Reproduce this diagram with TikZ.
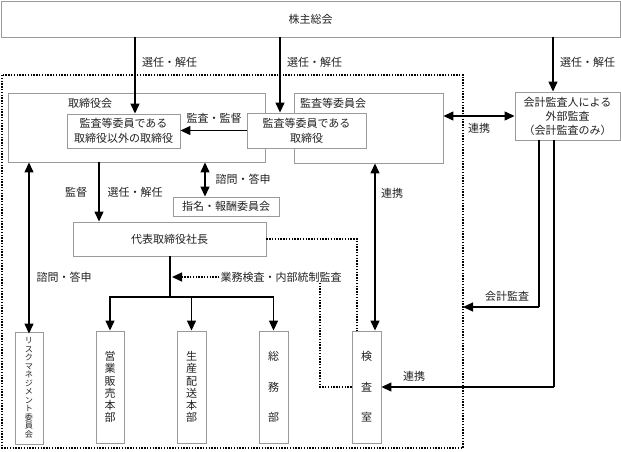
\documentclass[tikz,border=0pt]{standalone}
\usepackage{fontspec}
\setmainfont{Noto Sans CJK JP}
\usetikzlibrary{arrows.meta}
\definecolor{bordc}{HTML}{9A9A9A}
\definecolor{txtc}{HTML}{222222}
\begin{document}
\begin{tikzpicture}[x=1pt,y=-1pt,
  box/.style={draw=bordc,line width=0.9pt,fill=white,inner sep=0pt,text=txtc,align=center,font=\fontsize{11}{15}\selectfont},
  vbox/.style={box,font=\fontsize{11}{12.3}\selectfont},
  lbl/.style={inner sep=1pt,text=txtc,font=\fontsize{11}{13}\selectfont},
  ln/.style={line width=1.3pt,black},
  arr/.style={ln,-{Triangle[length=10pt,width=9pt]}},
  darr/.style={ln,{Triangle[length=10pt,width=9pt]}-{Triangle[length=10pt,width=9pt]}},
  dot/.style={line width=1.3pt,black,dash pattern=on 1.4pt off 1.4pt},
]
\useasboundingbox (0,0) rectangle (621,451);

% outer dotted frame
\draw[dot] (2,75) rectangle (463,448);

% nodes
\node[box,minimum width=619pt,minimum height=36pt] (sh) at (310.5,19) {株主総会};
\node[box,minimum width=257pt,minimum height=69pt] (tori) at (136.5,127.5) {};
\node[lbl,anchor=west] (toriL) at (67,103) {取締役会};
\node[box,minimum width=113pt,minimum height=34pt] (in1) at (123.5,131) {監査等委員である\\取締役以外の取締役};
\node[box,minimum width=149pt,minimum height=70pt] (kan) at (368.5,128) {};
\node[lbl,anchor=west] (kanL) at (299,103) {監査等委員会};
\node[box,minimum width=119pt,minimum height=35pt] (in2) at (306.5,130.5) {監査等委員である\\取締役};
\node[box,minimum width=106pt,minimum height=19pt] (shimei) at (226,206.5) {指名・報酬委員会};
\node[box,minimum width=193pt,minimum height=34pt] (dai) at (169.5,239) {代表取締役社長};
\node[box,minimum width=105pt,minimum height=48pt,font=\fontsize{11}{14}\selectfont] (kai) at (567.5,116) {会計監査人による\\外部監査\\（会計監査のみ）};
\node[box,minimum width=28pt,minimum height=112pt,font=\fontsize{8.1}{8.5}\selectfont] (risk) at (29,388) {リ\\ス\\ク\\マ\\ネ\\ジ\\メ\\ン\\ト\\委\\員\\会};
\node[vbox,minimum width=28pt,minimum height=112pt] (eig) at (110,387) {営\\業\\販\\売\\本\\部};
\node[vbox,minimum width=29pt,minimum height=112pt] (sei) at (191.5,387) {生\\産\\配\\送\\本\\部};
\node[box,minimum width=29pt,minimum height=112pt,font=\fontsize{11}{30.5}\selectfont] (som) at (273.5,387) {総\\務\\部};
\node[box,minimum width=29pt,minimum height=112pt,font=\fontsize{11}{30.5}\selectfont] (ken) at (366.5,387) {検\\査\\室};

% helper coordinates
\coordinate (p1) at (135,0);
\coordinate (p2) at (280,0);
\coordinate (p3) at (553,0);
\coordinate (p4) at (99,0);
\coordinate (p5) at (205,0);
\coordinate (p6) at (29,0);
\coordinate (t) at (170,297);
\coordinate (p7) at (375,0);
\coordinate (p8) at (357,239);
\coordinate (p9) at (320,387);
\coordinate (pa) at (539,307);
\coordinate (pb) at (554,387);
\coordinate (y1) at (0,116);

% top arrows
\draw[arr] (sh.south -| p1) -- (in1.north -| p1);
\node[lbl,anchor=west] (l1) at (141,62) {選任・解任};
\draw[arr] (sh.south -| p2) -- (in2.north -| p2);
\node[lbl,anchor=west] (l2) at (286,62) {選任・解任};
\draw[arr] (sh.south -| p3) -- (kai.north -| p3);
\node[lbl,anchor=west] (l3) at (559,62) {選任・解任};

% audit/supervise
\draw[arr] (in2.west) -- (in2.west -| in1.east);
\node[lbl] (l4) at (214,118) {監査・監督};

% kansa <-> kaikei
\draw[darr] (kan.east |- y1) -- (kai.west |- y1);
\node[lbl] (l5) at (479,128) {連携};

% torikai -> daihyo
\draw[arr] (tori.south -| p4) -- (dai.north -| p4);
\node[lbl] (l6) at (76,192) {監督};
\node[lbl] (l7) at (135,192) {選任・解任};

% torikai <-> shimei
\draw[darr] (tori.south -| p5) -- (shimei.north -| p5);
\node[lbl] (l8) at (243,179) {諮問・答申};

% torikai <-> risk
\draw[darr] (tori.south -| p6) -- ([yshift=-2pt]risk.north);
\node[lbl] (l9) at (64,277) {諮問・答申};

% daihyo -> departments
\draw[ln] (dai.south -| t) -- (t);
\draw[arr] (t) -| (eig.north);
\draw[arr] (t) -| (som.north);
\draw[arr] (t -| sei.north) -- (sei.north);

% kansa <-> kensa
\draw[darr] (kan.south -| p7) -- (ken.north -| p7);
\node[lbl] (l10) at (392,193) {連携};

% dotted lines
\draw[dot] (dai.east |- p8) -- (p8) -- (ken.north -| p8);
\node[lbl] (gm) at (281,277) {業務検査・内部統制監査};
\draw[dot] (ken.west |- p9) -- (p9) -- (gm.south -| p9);
\draw[dot,-{Triangle[length=10pt,width=9pt]}] (gm.west) -- ([xshift=2pt]gm.west -| t);

% kaikei -> audit
\draw[ln] (kai.south -| pa) -- (pa);
\draw[arr] (pa) -- (pa -| 463,0);
\node[lbl] (l11) at (507,296) {会計監査};
\draw[ln] (kai.south -| pb) -- (pb);
\draw[arr] (pb) -- (ken.east |- pb);
\node[lbl] (l12) at (414,376) {連携};
\end{tikzpicture}
\end{document}
